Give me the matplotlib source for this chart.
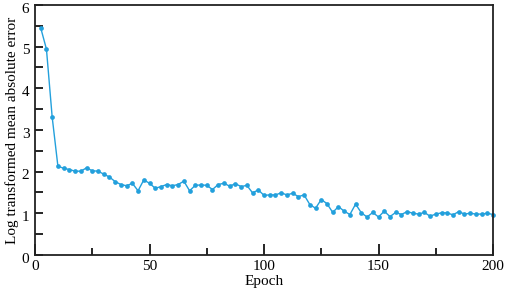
import matplotlib
matplotlib.use("Agg")
import matplotlib.pyplot as plt
import matplotlib.transforms as mtransforms
import numpy as np
from matplotlib.ticker import MultipleLocator

plt.rcParams['font.family'] = ['Liberation Serif', 'DejaVu Serif']

# epochs sampled every 2.5
epochs = np.arange(1, 81) * 2.5
mae_log = [5.45, 4.94, 3.31, 2.13, 2.08, 2.05, 2.01, 2.01, 2.09, 2.02,
           2.01, 1.94, 1.87, 1.76, 1.69, 1.66, 1.72, 1.54, 1.80, 1.72,
           1.60, 1.64, 1.69, 1.66, 1.69, 1.77, 1.54, 1.67, 1.68, 1.67,
           1.57, 1.69, 1.72, 1.65, 1.71, 1.64, 1.67, 1.49, 1.56, 1.43,
           1.44, 1.44, 1.49, 1.44, 1.48, 1.40, 1.44, 1.21, 1.12, 1.33,
           1.23, 1.02, 1.16, 1.05, 0.97, 1.22, 1.01, 0.91, 1.02, 0.91,
           1.05, 0.92, 1.02, 0.97, 1.04, 1.00, 0.98, 1.02, 0.93, 0.98,
           1.01, 1.01, 0.96, 1.04, 0.98, 1.00, 0.98, 0.98, 1.00, 0.97]

fig = plt.figure(figsize=(5.05, 2.93), dpi=100)
ax = fig.add_axes([0.0693, 0.130, 0.907, 0.853])

ax.plot(epochs, mae_log, color='#23a0dc', lw=1.0, marker='o', ms=3.4,
        markeredgewidth=0, clip_on=False)

ax.set_xlim(0, 200)
ax.set_ylim(0, 6)
ax.xaxis.set_major_locator(MultipleLocator(50))
ax.xaxis.set_minor_locator(MultipleLocator(25))
ax.yaxis.set_major_locator(MultipleLocator(1))
ax.yaxis.set_minor_locator(MultipleLocator(0.5))
ax.tick_params(which='both', direction='in', labelsize=11, width=1.2, color='black')
ax.tick_params(axis='x', which='major', length=8, pad=4)
ax.tick_params(axis='x', which='minor', length=5)
ax.tick_params(axis='y', which='both', length=6, pad=4)

# y tick labels sit a little below their ticks in the reference
shift = mtransforms.ScaledTranslation(0, -2 / 72, fig.dpi_scale_trans)
for lab in ax.get_yticklabels():
    lab.set_transform(lab.get_transform() + shift)

for s in ax.spines.values():
    s.set_linewidth(1.3)
    s.set_color('#222222')

ax.set_xlabel('Epoch', fontsize=11, labelpad=1)
ax.set_ylabel('Log transformed mean absolute error', fontsize=11, labelpad=2)

fig.savefig('out.png', dpi=100)
